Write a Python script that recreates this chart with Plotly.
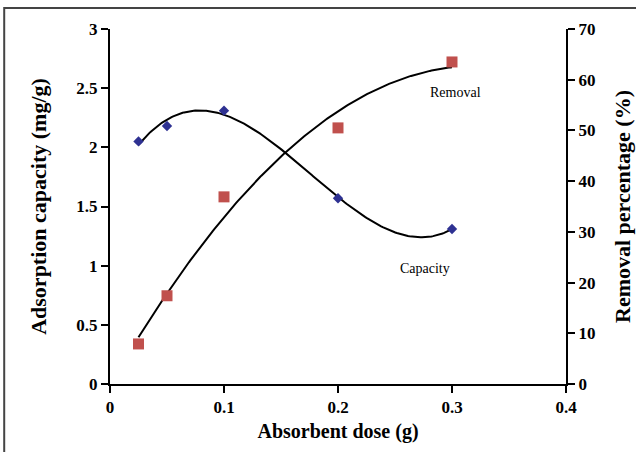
import numpy as np
import plotly.graph_objects as go

dose = [0.025, 0.05, 0.1, 0.2, 0.3]
capacity = [2.05, 2.18, 2.31, 1.57, 1.31]
removal = [7.9, 17.4, 36.9, 50.5, 63.5]

x_ticks = [0, 0.1, 0.2, 0.3, 0.4]
y1_ticks = [0, 0.5, 1, 1.5, 2, 2.5, 3]
y2_ticks = [0, 10, 20, 30, 40, 50, 60, 70]

# polynomial trendlines (as in the spreadsheet chart)
xs = np.linspace(min(dose), max(dose), 200)
cap_fit = np.polyval(np.polyfit(dose, capacity, 3), xs)
rem_fit = np.polyval(np.polyfit(dose, removal, 2), xs)

font = "Liberation Serif, Times New Roman, serif"

fig = go.Figure()
fig.add_trace(go.Scatter(x=xs, y=cap_fit, mode="lines", line=dict(color="black", width=2),
                         showlegend=False, hoverinfo="skip"))
fig.add_trace(go.Scatter(x=xs, y=rem_fit, mode="lines", line=dict(color="black", width=2),
                         showlegend=False, hoverinfo="skip", yaxis="y2"))
fig.add_trace(go.Scatter(x=dose, y=capacity, mode="markers", name="Capacity",
                         marker=dict(symbol="diamond", size=8, color="#2E3192"), showlegend=False))
fig.add_trace(go.Scatter(x=dose, y=removal, mode="markers", name="Removal", yaxis="y2",
                         marker=dict(symbol="square", size=11, color="#C0504D"), showlegend=False))

tickfont = dict(family=font, size=17, color="black")
xtitlefont = dict(family=font, size=20, color="black")
ytitlefont = dict(family=font, size=22, color="black")
axis_common = dict(showgrid=False, zeroline=False, showline=True, linecolor="black", linewidth=2,
                   ticks="outside", ticklen=7, tickwidth=2, tickcolor="black",
                   tickfont=tickfont, automargin=False)

def bold(vals):
    return ["<b>%s</b>" % v for v in vals]

fig.update_layout(
    width=636, height=452,
    margin=dict(l=110, r=70, t=29, b=68),
    paper_bgcolor="white", plot_bgcolor="white",
    xaxis=dict(range=[0, 0.4], tickvals=x_ticks, ticktext=bold(x_ticks),
               title=dict(text="<b>Absorbent dose (g)</b>", font=xtitlefont, standoff=8),
               **axis_common),
    yaxis=dict(range=[0, 3], tickvals=y1_ticks, ticktext=bold(y1_ticks),
               title=dict(text="<b>Adsorption capacity (mg/g)</b>", font=ytitlefont, standoff=24),
               **axis_common),
    yaxis2=dict(range=[0, 70], tickvals=y2_ticks, ticktext=bold(y2_ticks),
                overlaying="y", side="right",
                title=dict(text="<b>Removal percentage (%)</b>", font=ytitlefont, standoff=20),
                **axis_common),
    annotations=[
        dict(x=0.3035, y=2.46, xref="x", yref="y", text="Removal", showarrow=False,
             font=dict(family=font, size=14, color="black")),
        dict(x=0.276, y=0.98, xref="x", yref="y", text="Capacity", showarrow=False,
             font=dict(family=font, size=14, color="black")),
    ],
    shapes=[dict(type="rect", xref="paper", yref="paper", x0=-0.232, x1=1.25, y0=-0.3, y1=1.059,
                 line=dict(color="#444", width=2))],
)
fig.write_html("out.html")
